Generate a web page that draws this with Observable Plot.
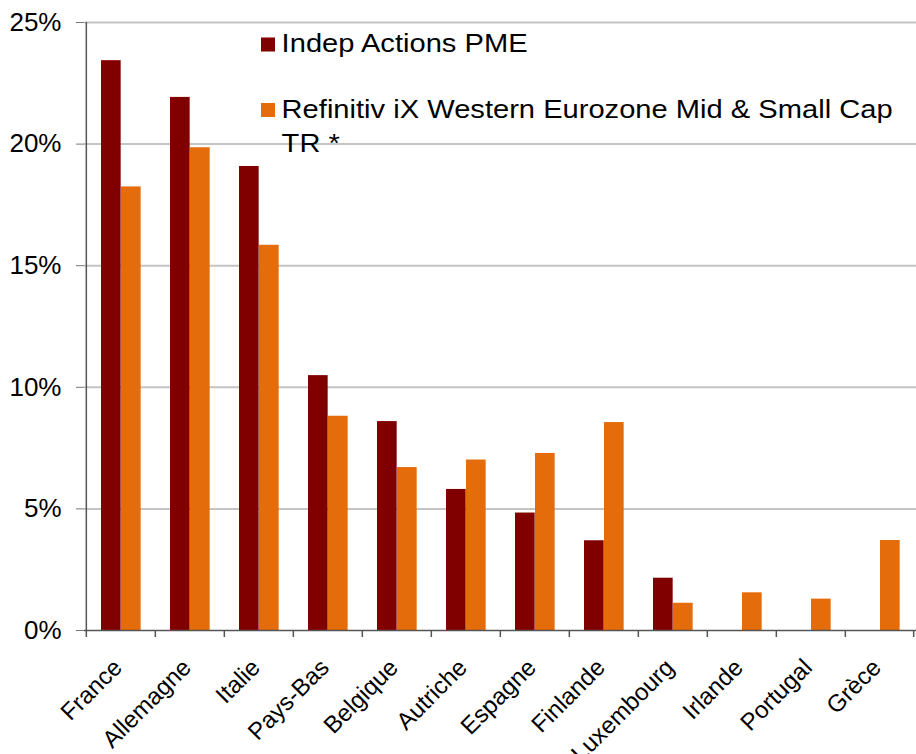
<!DOCTYPE html>
<html>
<head>
<meta charset="utf-8">
<script src="https://cdn.jsdelivr.net/npm/d3@7"></script>
<script src="https://cdn.jsdelivr.net/npm/@observablehq/plot@0.6"></script>
<style>
  html, body { margin: 0; padding: 0; background: #fff; }
  #wrap { position: relative; width: 916px; height: 754px; font-family: "Liberation Sans", Arial, sans-serif; }
</style>
</head>
<body>
<div id="wrap"></div>
<script>
const countries = ["France", "Allemagne", "Italie", "Pays-Bas", "Belgique", "Autriche", "Espagne", "Finlande", "Luxembourg", "Irlande", "Portugal", "Grèce"];
const indepActions = [23.43, 21.92, 19.08, 10.48, 8.59, 5.80, 4.83, 3.69, 2.15, null, null, null];
const refinitiv = [18.24, 19.85, 15.84, 8.81, 6.70, 7.01, 7.28, 8.55, 1.12, 1.55, 1.29, 3.70];
const seriesNames = ["Indep Actions PME", "Refinitiv iX Western Eurozone Mid & Small Cap TR *"];
const legendLines = [["Indep Actions PME"], ["Refinitiv iX Western Eurozone Mid & Small Cap", "TR *"]];
const seriesColors = ["#800000", "#E46C0A"];
const yTicks = [0, 5, 10, 15, 20, 25];

const W = 916, H = 754, mL = 84, mR = 0, mT = 22, mB = 124;
const bw = (W - mL - mR) / countries.length;

const rows = [];
countries.forEach((c, i) => {
  if (indepActions[i] != null) rows.push({country: c, series: seriesNames[0], value: indepActions[i]});
  rows.push({country: c, series: seriesNames[1], value: refinitiv[i]});
});

const chart = Plot.plot({
  width: W, height: H,
  marginLeft: mL, marginRight: mR, marginTop: mT, marginBottom: mB,
  style: {fontFamily: "'Liberation Sans', Arial, sans-serif", background: "#fff", overflow: "visible"},
  x: {domain: countries, padding: 0, axis: null},
  y: {domain: [0, 25], axis: null},
  marks: [
    Plot.ruleY(yTicks.slice(1), {stroke: "#c4c4c4", strokeWidth: 2}),
    Plot.barY(rows.filter(d => d.series === seriesNames[0]), {x: "country", y: "value", fill: seriesColors[0], insetLeft: 15, insetRight: bw - 35}),
    Plot.barY(rows.filter(d => d.series === seriesNames[1]), {x: "country", y: "value", fill: seriesColors[1], insetLeft: 35, insetRight: bw - 55}),
    Plot.ruleY([0], {stroke: "#555", strokeWidth: 1.5}),
    Plot.ruleX([countries[0]], {x: d => d, dx: -bw / 2, stroke: "#555", strokeWidth: 1.5}),
    Plot.ruleX(countries, {x: d => d, dx: -bw / 2, y1: 0, y2: 0, insetTop: 7, stroke: "#555", strokeWidth: 1.5}),
    Plot.ruleX([countries[countries.length - 1]], {x: d => d, dx: bw / 2 - 1, y1: 0, y2: 0, insetTop: 7, stroke: "#555", strokeWidth: 1.5}),
    Plot.axisY({ticks: yTicks, tickFormat: d => d + "%", tickSize: 8, tickPadding: 15, fontSize: 26, stroke: "#777", label: null, color: "#000"}),
    Plot.text(countries, {x: d => d, y: 0, text: d => d, rotate: -45, textAnchor: "end", lineAnchor: "middle", dx: -3, dy: 33, fontSize: 24, fill: "#000"})
  ]
});

const wrap = document.getElementById("wrap");
wrap.appendChild(chart);

// legend inside the plot area
const svg = d3.select(chart);
const legendBaselines = [51.7, 118.3];
const swatchTops = [37.5, 103];
legendLines.forEach((lines, i) => {
  svg.append("rect")
    .attr("x", 261).attr("y", swatchTops[i]).attr("width", 14).attr("height", 14)
    .attr("fill", seriesColors[i]);
  const t = svg.append("text")
    .attr("transform", `translate(281.6,${legendBaselines[i]}) scale(1.12,1)`)
    .attr("font-size", 26)
    .attr("text-anchor", "start")
    .attr("font-family", "'Liberation Sans', Arial, sans-serif")
    .attr("fill", "#000");
  lines.forEach((ln, j) => {
    t.append("tspan").attr("x", 0).attr("y", j * 33.4).attr("text-anchor", "start").text(ln);
  });
});
</script>
</body>
</html>
